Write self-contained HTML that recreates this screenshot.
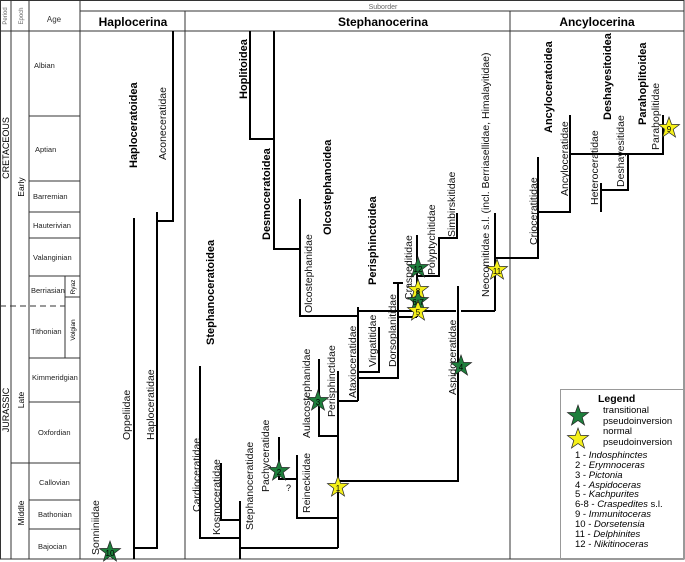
<!DOCTYPE html>
<html><head><meta charset="utf-8"><style>
html,body{margin:0;padding:0;background:#fff}
svg{display:block;font-family:"Liberation Sans",sans-serif}
.g{stroke:#333;stroke-width:1;fill:none}
.t{stroke:#000;stroke-width:2;fill:none}
.f{font-size:10.5px;fill:#111}
.b{font-size:11px;font-weight:bold;fill:#000}
.a{font-size:7.5px;fill:#222}
.sn{font-size:8px;fill:#000;text-anchor:middle}
</style></head><body>
<svg width="685" height="562" viewBox="0 0 685 562" xmlns="http://www.w3.org/2000/svg">
<defs>
<polygon id="st" points="0,-11 2.6,-3.6 10.5,-3.4 4.2,1.4 6.5,9 0,4.5 -6.5,9 -4.2,1.4 -10.5,-3.4 -2.6,-3.6"/>
</defs>
<g class="g">
<rect x="0.5" y="0.5" width="683.5" height="558.5"/>
<line x1="80" y1="11" x2="684" y2="11"/>
<line x1="0" y1="31" x2="684" y2="31"/>
<line x1="11" y1="0" x2="11" y2="559"/>
<line x1="29" y1="0" x2="29" y2="559"/>
<line x1="80" y1="0" x2="80" y2="559"/>
<line x1="185" y1="11" x2="185" y2="559"/>
<line x1="510" y1="11" x2="510" y2="559"/>
<line x1="29" y1="116" x2="80" y2="116"/>
<line x1="29" y1="181" x2="80" y2="181"/>
<line x1="29" y1="212" x2="80" y2="212"/>
<line x1="29" y1="238" x2="80" y2="238"/>
<line x1="29" y1="276" x2="80" y2="276"/>
<line x1="65" y1="276" x2="65" y2="358"/>
<line x1="65" y1="297" x2="80" y2="297"/>
<line x1="0" y1="306" x2="65" y2="306" stroke-dasharray="6,4"/>
<line x1="29" y1="358" x2="80" y2="358"/>
<line x1="29" y1="402" x2="80" y2="402"/>
<line x1="11" y1="463" x2="80" y2="463"/>
<line x1="29" y1="500" x2="80" y2="500"/>
<line x1="29" y1="529" x2="80" y2="529"/>
</g>
<text transform="translate(7,16) rotate(-90)" style="font-size:6px;fill:#666" text-anchor="middle">Period</text>
<text transform="translate(23,16) rotate(-90)" style="font-size:6px;fill:#666" text-anchor="middle">Epoch</text>
<text x="54" y="22" style="font-size:8px;fill:#333" text-anchor="middle">Age</text>
<text x="383" y="9" style="font-size:7px;fill:#666" text-anchor="middle">Suborder</text>
<text x="133" y="26" style="font-size:12px;font-weight:bold" text-anchor="middle">Haplocerina</text>
<text x="383" y="26" style="font-size:12px;font-weight:bold" text-anchor="middle">Stephanocerina</text>
<text x="597" y="26" style="font-size:12px;font-weight:bold" text-anchor="middle">Ancylocerina</text>
<text transform="translate(9,148) rotate(-90)" style="font-size:9px" text-anchor="middle">CRETACEOUS</text>
<text transform="translate(24,187) rotate(-90)" style="font-size:8.5px" text-anchor="middle">Early</text>
<text transform="translate(9,410) rotate(-90)" style="font-size:9px" text-anchor="middle">JURASSIC</text>
<text transform="translate(24,400) rotate(-90)" style="font-size:8.5px" text-anchor="middle">Late</text>
<text transform="translate(24,513) rotate(-90)" style="font-size:8.5px" text-anchor="middle">Middle</text>
<text class="a" x="34" y="68">Albian</text>
<text class="a" x="35" y="152">Aptian</text>
<text class="a" x="33" y="199">Barremian</text>
<text class="a" x="33" y="228">Hauterivian</text>
<text class="a" x="33" y="260">Valanginian</text>
<text class="a" x="31" y="293">Berriasian</text>
<text class="a" x="31" y="334">Tithonian</text>
<text class="a" x="32" y="380">Kimmeridgian</text>
<text class="a" x="38" y="435">Oxfordian</text>
<text class="a" x="39" y="485">Callovian</text>
<text class="a" x="38" y="517">Bathonian</text>
<text class="a" x="38" y="549">Bajocian</text>
<text transform="translate(75,287) rotate(-90)" style="font-size:6.5px" text-anchor="middle">Ryaz</text>
<text transform="translate(75,330) rotate(-90)" style="font-size:6.5px" text-anchor="middle">Volgian</text>
<g class="t">
<polyline points="173,31 173,221 157,221"/>
<polyline points="157,212 157,548 134,548"/>
<line x1="134" y1="218" x2="134" y2="559"/>
<polyline points="250,31 250,139 274,139"/>
<polyline points="274,31 274,249 300,249"/>
<polyline points="300,199 300,316 358,316"/>
<line x1="358" y1="307" x2="358" y2="401"/>
<line x1="358" y1="311" x2="456" y2="311"/>
<line x1="461" y1="311" x2="495" y2="311"/>
<line x1="495" y1="213" x2="495" y2="311"/>
<polyline points="495,258 538,258 538,157"/>
<polyline points="538,212 570,212 570,115"/>
<polyline points="570,154 663,154 663,115"/>
<polyline points="601,183 601,190 628,190 628,154"/>
<line x1="601" y1="190" x2="601" y2="212"/>
<polyline points="398,282 398,378 358,378"/>
<polyline points="379,327 379,372 358,372"/>
<line x1="398" y1="317" x2="417" y2="317"/>
<line x1="417" y1="235" x2="417" y2="317"/>
<line x1="393" y1="283" x2="403" y2="283"/>
<polyline points="417,276 439,276 439,238 457,238 457,213"/>
<polyline points="458,286 458,481 338,481"/>
<polyline points="338,401 358,401"/>
<line x1="338" y1="371" x2="338" y2="548"/>
<polyline points="240,548 338,548"/>
<polyline points="319,359 319,436 338,436"/>
<polyline points="297,455 297,518 338,518"/>
<polyline points="279,437 279,479 297,479"/>
<line x1="240" y1="501" x2="240" y2="559"/>
<polyline points="200,366 200,538 240,538"/>
<polyline points="221,463 221,520 240,520"/>
</g>
<g>
<text class="b" transform="translate(137,168) rotate(-90)">Haploceratoidea</text>
<text class="f" transform="translate(166,160) rotate(-90)">Aconeceratidae</text>
<text class="f" transform="translate(130,440) rotate(-90)">Oppeliidae</text>
<text class="f" transform="translate(154,440) rotate(-90)">Haploceratidae</text>
<text class="f" transform="translate(99,555) rotate(-90)">Sonniniidae</text>
<text class="b" transform="translate(214,345) rotate(-90)">Stephanoceratoidea</text>
<text class="f" transform="translate(200,512) rotate(-90)">Cardioceratidae</text>
<text class="f" transform="translate(220,535) rotate(-90)">Kosmoceratidae</text>
<text class="f" transform="translate(253,530) rotate(-90)">Stephanoceratidae</text>
<text class="f" transform="translate(269,492) rotate(-90)">Pachyceratidae</text>
<text x="286" y="491" style="font-size:9px">?</text>
<text class="f" transform="translate(310,513) rotate(-90)">Reineckiidae</text>
<text class="f" transform="translate(310,438) rotate(-90)">Aulacostephanidae</text>
<text class="f" transform="translate(335,417) rotate(-90)">Perisphinctidae</text>
<text class="f" transform="translate(356,398) rotate(-90)">Ataxioceratidae</text>
<text class="f" transform="translate(376,367) rotate(-90)">Virgatitidae</text>
<text class="f" transform="translate(396,367) rotate(-90)">Dorsoplanitidae</text>
<text class="f" transform="translate(412,300) rotate(-90)">Craspeditidae</text>
<text class="f" transform="translate(435,275) rotate(-90)">Polyptychitidae</text>
<text class="f" transform="translate(455,237) rotate(-90)">Simbirskitidae</text>
<text class="b" transform="translate(376,285) rotate(-90)">Perisphinctoidea</text>
<text class="f" transform="translate(312,313) rotate(-90)">Olcostephanidae</text>
<text class="b" transform="translate(331,235) rotate(-90)">Olcostephanoidea</text>
<text class="b" transform="translate(270,240) rotate(-90)">Desmoceratoidea</text>
<text class="b" transform="translate(247,99) rotate(-90)">Hoplitoidea</text>
<text class="f" transform="translate(456,395) rotate(-90)">Aspidoceratidae</text>
<text class="f" transform="translate(489,297) rotate(-90)">Neocomitidae s.l. (incl. Berriasellidae, Himalayitidae)</text>
<text class="f" transform="translate(537,245) rotate(-90)">Crioceratitidae</text>
<text class="b" transform="translate(552,133) rotate(-90)">Ancyloceratoidea</text>
<text class="f" transform="translate(568,196) rotate(-90)">Ancyloceratidae</text>
<text class="f" transform="translate(598,205) rotate(-90)">Heteroceratidae</text>
<text class="b" transform="translate(611,120) rotate(-90)">Deshayesitoidea</text>
<text class="f" transform="translate(624,187) rotate(-90)">Deshayesitidae</text>
<text class="b" transform="translate(646,125) rotate(-90)">Parahoplitoidea</text>
<text class="f" transform="translate(659,150) rotate(-90)">Parahoplitidae</text>
</g>
<g stroke="#222" stroke-width="0.7">
<use href="#st" x="110" y="552" fill="#1e7f3c"/>
<use href="#st" x="279" y="471" fill="#1e7f3c"/>
<use href="#st" x="318" y="401" fill="#1e7f3c"/>
<use href="#st" x="338" y="487" fill="#f5f01a"/>
<use href="#st" x="461" y="366" fill="#1e7f3c"/>
<use href="#st" x="418" y="268" fill="#1e7f3c"/>
<use href="#st" x="418" y="290" fill="#f5f01a"/>
<use href="#st" x="418" y="301" fill="#1e7f3c"/>
<use href="#st" x="418" y="311" fill="#f5f01a"/>
<use href="#st" x="497" y="270" fill="#f5f01a"/>
<use href="#st" x="669" y="128" fill="#f5f01a"/>
</g>
<g>
<text class="sn" x="110" y="556">10</text>
<text class="sn" x="279" y="475">2</text>
<text class="sn" x="318" y="405">3</text>
<text class="sn" x="338" y="491">1</text>
<text class="sn" x="461" y="370">4</text>
<text class="sn" x="418" y="272">12</text>
<text class="sn" x="418" y="294">8</text>
<text class="sn" x="418" y="305">6-7</text>
<text class="sn" x="418" y="315">5</text>
<text class="sn" x="497" y="274">11</text>
<text class="sn" x="669" y="132">9</text>
</g>
<rect x="560.5" y="389.5" width="123" height="169" fill="#fff" stroke="#999" stroke-width="1"/>
<text x="598" y="402" style="font-size:10.5px;font-weight:bold">Legend</text>
<g stroke="#222" stroke-width="0.7">
<use href="#st" x="578" y="416" fill="#1e7f3c"/>
<use href="#st" x="578" y="439" fill="#f5f01a"/>
</g>
<g style="font-size:9.5px">
<text x="603" y="413">transitional</text>
<text x="603" y="424">pseudoinversion</text>
<text x="603" y="434">normal</text>
<text x="603" y="445">pseudoinversion</text>
<text x="575" y="458">1 - <tspan font-style="italic">Indosphinctes</tspan></text>
<text x="575" y="468">2 - <tspan font-style="italic">Erymnoceras</tspan></text>
<text x="575" y="478">3 - <tspan font-style="italic">Pictonia</tspan></text>
<text x="575" y="488">4 - <tspan font-style="italic">Aspidoceras</tspan></text>
<text x="575" y="497">5 - <tspan font-style="italic">Kachpurites</tspan></text>
<text x="575" y="507">6-8 - <tspan font-style="italic">Craspedites</tspan> s.l.</text>
<text x="575" y="517">9 - <tspan font-style="italic">Immunitoceras</tspan></text>
<text x="575" y="527">10 - <tspan font-style="italic">Dorsetensia</tspan></text>
<text x="575" y="537">11 - <tspan font-style="italic">Delphinites</tspan></text>
<text x="575" y="547">12 - <tspan font-style="italic">Nikitinoceras</tspan></text>
</g>
</svg>
</body></html>
